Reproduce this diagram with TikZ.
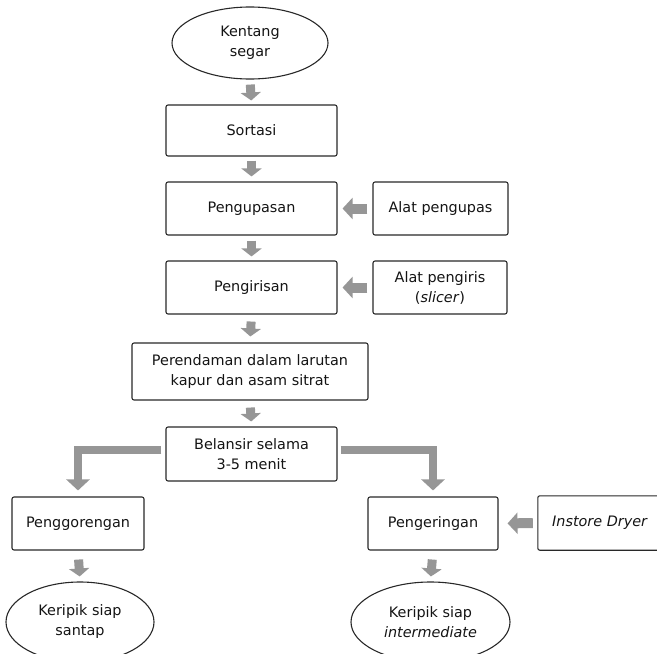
\documentclass[tikz,border=0pt]{standalone}
\usepackage{fontspec}
\setmainfont{DejaVu Sans}
\usetikzlibrary{shapes.geometric,arrows.meta}
\definecolor{arrowgray}{RGB}{150,150,150}
\definecolor{boxline}{RGB}{40,40,40}
\definecolor{txtcol}{RGB}{20,20,20}
\begin{document}
\begin{tikzpicture}[x=1pt,y=-1pt,
  every node/.style={font=\fontsize{14.4}{20}\selectfont, text=txtcol, align=center, inner sep=0pt},
  procbox/.style={draw=boxline, line width=1.1pt, rounded corners=2pt},
  oval/.style={draw=boxline, line width=1.1pt, ellipse},
  downarrow/.style={draw=arrowgray, line width=9pt, -{Triangle[width=20pt,length=8pt]}},
  sidearrow/.style={draw=arrowgray, line width=10pt, -{Triangle[width=21pt,length=10pt]}},
  elbowarrow/.style={draw=arrowgray, line width=8pt, line join=miter, -{Triangle[width=23pt,length=11pt]}}]
\useasboundingbox (0,0) rectangle (657,654);

\node[oval, minimum width=156pt, minimum height=72pt] (kentang) at (250,43) {Kentang\\segar};
\node[procbox, minimum width=171pt, minimum height=51pt] (sortasi) at (251.5,130.5) {Sortasi};
\node[procbox, minimum width=171pt, minimum height=53pt] (kupas) at (251.5,208.5) {Pengupasan};
\node[procbox, minimum width=135pt, minimum height=53pt] (alatkupas) at (440.5,208.5) {Alat pengupas};
\node[procbox, minimum width=171pt, minimum height=53pt] (iris) at (251.5,287.5) {Pengirisan};
\node[procbox, minimum width=134pt, minimum height=53pt] (alatiris) at (440,287.5) {Alat pengiris\\(\textit{slicer})};
\node[procbox, minimum width=236pt, minimum height=57pt] (rendam) at (250,371.5) {Perendaman dalam larutan\\kapur dan asam sitrat};
\node[procbox, minimum width=171pt, minimum height=54pt] (belansir) at (251.5,454) {Belansir selama\\3-5 menit};
\node[procbox, minimum width=132pt, minimum height=53pt] (goreng) at (78,523.5) {Penggorengan};
\node[procbox, minimum width=130pt, minimum height=53pt] (kering) at (433,523.5) {Pengeringan};
\node[minimum width=124pt, minimum height=54pt] (dryer) at (600,523) {\textit{Instore Dryer}};
\draw[procbox] (dryer.north west) rectangle ([xshift=30pt]dryer.south east);
\node[oval, minimum width=148pt, minimum height=80pt] (santap) at (80,622) {Keripik siap\\santap};
\node[oval, minimum width=159pt, minimum height=80pt] (inter) at (430.5,622) {Keripik siap\\\textit{intermediate}};

\draw[downarrow, shorten <=5pt, shorten >=4pt] (kentang.south) -- (sortasi.north);
\draw[downarrow, shorten <=4pt, shorten >=5pt] (sortasi.south) -- (kupas.north);
\draw[downarrow, shorten <=5pt, shorten >=4pt] (kupas.south) -- (iris.north);
\draw[downarrow, shorten <=7pt, shorten >=6pt] (iris.south) -- (rendam.north);
\draw[downarrow, shorten <=7pt, shorten >=5pt] (rendam.south) -- (belansir.north);
\draw[downarrow, shorten <=9pt, shorten >=5pt] (goreng.south) -- (santap.north);
\draw[downarrow, shorten <=9pt, shorten >=5pt] (kering.south) -- (inter.north);

\draw[sidearrow, shorten <=5pt, shorten >=5pt] (alatkupas.west) -- (kupas.east);
\draw[sidearrow, shorten <=5pt, shorten >=5pt] (alatiris.west) -- (iris.east);
\draw[sidearrow, shorten <=5pt, shorten >=9pt] (dryer.west) -- (kering.east);

\draw[elbowarrow, shorten >=6pt] ([shift={(-4pt,4pt)}]belansir.west) -| (goreng.north);
\draw[elbowarrow, shorten >=6pt] ([shift={(3pt,4pt)}]belansir.east) -| (kering.north);
\end{tikzpicture}
\end{document}
